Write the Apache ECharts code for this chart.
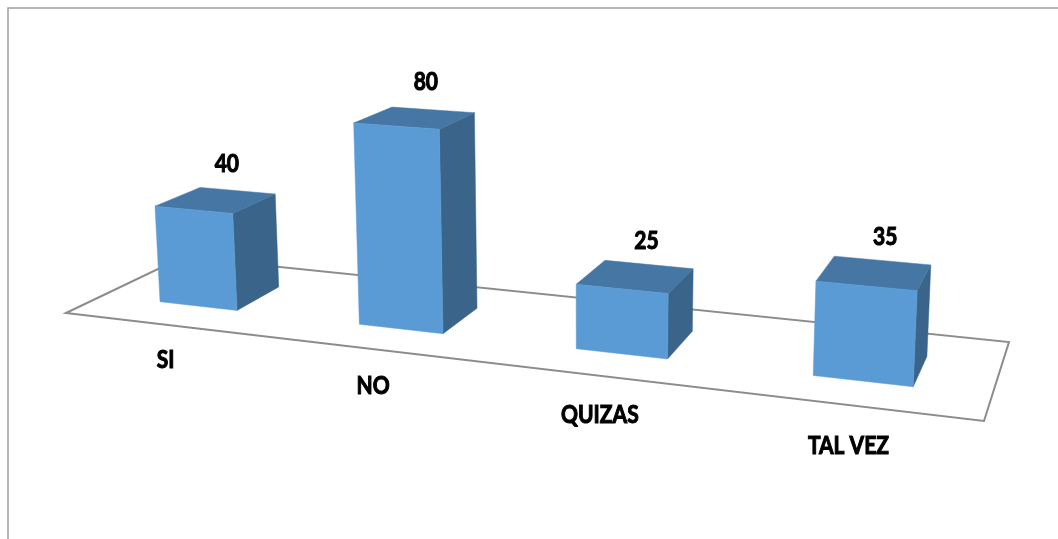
<!DOCTYPE html>
<html>
<head>
<meta charset="utf-8">
<script src="https://cdn.jsdelivr.net/npm/echarts@6/dist/echarts.min.js"></script>
<style>
  html, body { margin: 0; padding: 0; background: #ffffff; }
  #chart { width: 1058px; height: 539px; }
</style>
</head>
<body>
<div id="chart"></div>
<script>
// ---- data ----
const categories = ['SI', 'NO', 'QUIZAS', 'TAL VEZ'];
const values = [40, 80, 25, 35];

// ---- axis range (hidden value axis) ----
const Y_MIN = 0;
const Y_MAX = 100;

// ---- 3D view layout (floor corners on screen, vertical lift per value unit) ----
const FLOOR_FL = [66, 313];
const FLOOR_FR = [984, 421];
const FLOOR_BR = [1009, 342];
const FLOOR_BL = [183, 257];
const LIFT = [-0.1755, -2.5017, -0.0003];
const BAR_FRAC = 0.396;      // bar width as share of a category band
const BAR_T0 = 0.293;        // bar front depth on the floor
const BAR_T1 = 0.689;        // bar back depth on the floor
const CAT_LABEL_Z = -14.5;   // category labels sit below the floor front edge
const VAL_LABEL_T = 0.49;
const VAL_LABEL_DX = 11;
const VAL_LABEL_DY = -36;

// ---- styles ----
const COLOR_FRONT = '#5B9BD5';
const COLOR_TOP = '#4677A4';
const COLOR_SIDE = '#3A6489';
const FLOOR_COLOR = '#8C8C8C';
const TEXT_SCALE_Y = 1.22;

// homography: unit floor square -> screen quad
function makeHomography(p0, p1, p2, p3) {
  const dx1 = p1[0] - p2[0], dx2 = p3[0] - p2[0], dx3 = p0[0] - p1[0] + p2[0] - p3[0];
  const dy1 = p1[1] - p2[1], dy2 = p3[1] - p2[1], dy3 = p0[1] - p1[1] + p2[1] - p3[1];
  const den = dx1 * dy2 - dx2 * dy1;
  const g = (dx3 * dy2 - dx2 * dy3) / den;
  const h = (dx1 * dy3 - dx3 * dy1) / den;
  return {
    a: p1[0] - p0[0] + g * p1[0], b: p3[0] - p0[0] + h * p3[0], c: p0[0],
    d: p1[1] - p0[1] + g * p1[1], e: p3[1] - p0[1] + h * p3[1], f: p0[1],
    g: g, h: h
  };
}
const H = makeHomography(FLOOR_FL, FLOOR_FR, FLOOR_BR, FLOOR_BL);
function proj(s, t, z) {
  const w = H.g * s + H.h * t + 1 + LIFT[2] * z;
  return [
    (H.a * s + H.b * t + H.c + LIFT[0] * z) / w,
    (H.d * s + H.e * t + H.f + LIFT[1] * z) / w
  ];
}

function label(text, pt) {
  return {
    type: 'text',
    x: pt[0], y: pt[1],
    scaleY: TEXT_SCALE_Y,
    style: {
      text: text, x: 0, y: 0,
      align: 'center', verticalAlign: 'middle',
      fontFamily: 'Lato', fontWeight: 'bold', fontSize: 21,
      fill: '#000000',
      stroke: '#000000', lineWidth: 0.9
    }
  };
}

function renderBar(params, api) {
  const cs = params.coordSys;
  const idx = api.value(0);
  const v = api.value(1);
  const topPt = api.coord([idx, v]);
  const basePt = api.coord([idx, Y_MIN]);
  const s = (topPt[0] - cs.x) / cs.width;
  const band = api.size([1, 0])[0] / cs.width;
  const z = (basePt[1] - topPt[1]) / cs.height * (Y_MAX - Y_MIN);
  const s0 = s - band * BAR_FRAC / 2;
  const s1 = s + band * BAR_FRAC / 2;

  const front = [proj(s0, BAR_T0, 0), proj(s1, BAR_T0, 0), proj(s1, BAR_T0, z), proj(s0, BAR_T0, z)];
  const side = [proj(s1, BAR_T0, 0), proj(s1, BAR_T1, 0), proj(s1, BAR_T1, z), proj(s1, BAR_T0, z)];
  const top = [proj(s0, BAR_T0, z), proj(s1, BAR_T0, z), proj(s1, BAR_T1, z), proj(s0, BAR_T1, z)];

  const vl = proj(s, VAL_LABEL_T, z);
  const cl = proj(s, 0, CAT_LABEL_Z);

  return {
    type: 'group',
    children: [
      { type: 'polygon', shape: { points: side }, style: { fill: COLOR_SIDE, stroke: COLOR_SIDE, lineWidth: 0.5 } },
      { type: 'polygon', shape: { points: top }, style: { fill: COLOR_TOP, stroke: COLOR_TOP, lineWidth: 0.5 } },
      { type: 'polygon', shape: { points: front }, style: { fill: COLOR_FRONT, stroke: COLOR_FRONT, lineWidth: 0.5 } },
      label(String(v), [vl[0] + VAL_LABEL_DX, vl[1] + VAL_LABEL_DY]),
      label(categories[idx], cl)
    ]
  };
}

function renderFloor(params, api) {
  const pts = [proj(0, 0, 0), proj(1, 0, 0), proj(1, 1, 0), proj(0, 1, 0)];
  return {
    type: 'polygon',
    shape: { points: pts },
    style: { fill: 'none', stroke: FLOOR_COLOR, lineWidth: 2, lineJoin: 'miter' }
  };
}

const chart = echarts.init(document.getElementById('chart'), null, { renderer: 'canvas' });
chart.setOption({
  animation: false,
  backgroundColor: '#ffffff',
  graphic: [{
    type: 'rect',
    shape: { x: 8, y: 8, width: 1200, height: 700 },
    style: { fill: 'none', stroke: '#A0A0A0', lineWidth: 1.5 },
    silent: true, z: 0
  }],
  grid: { left: 0, right: 0, top: 0, bottom: 0 },
  xAxis: { type: 'category', data: categories, show: false },
  yAxis: { type: 'value', min: Y_MIN, max: Y_MAX, show: false },
  series: [
    {
      type: 'custom',
      z: 1,
      renderItem: renderFloor,
      data: [[0, 0]],
      encode: { x: 0, y: 1 },
      silent: true
    },
    {
      type: 'custom',
      z: 2,
      renderItem: renderBar,
      data: values.map((v, i) => [i, v]),
      encode: { x: 0, y: 1 }
    }
  ]
});
</script>
</body>
</html>
